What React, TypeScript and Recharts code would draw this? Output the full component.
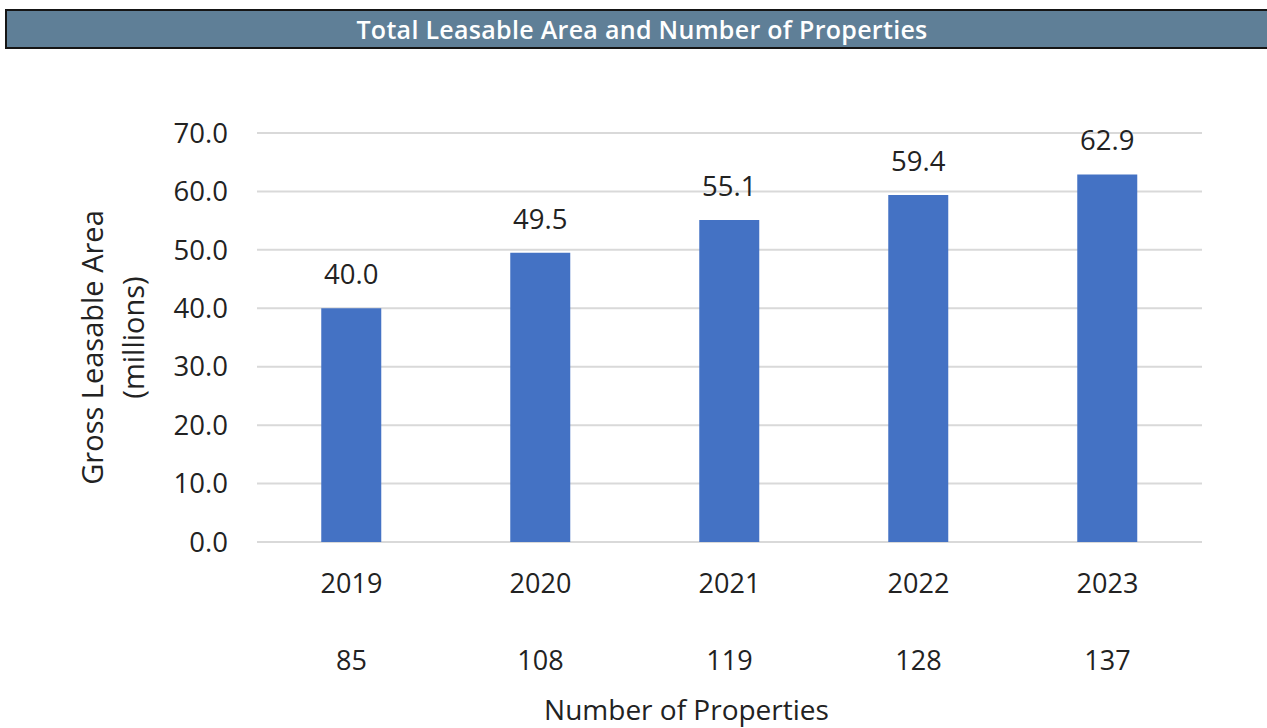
import React from "react";
import {
  BarChart,
  Bar,
  XAxis,
  YAxis,
  CartesianGrid,
  LabelList,
  Label,
} from "recharts";

const years = ["2019", "2020", "2021", "2022", "2023"];
const areaMillions = [40.0, 49.5, 55.1, 59.4, 62.9];
const propertyCounts = [85, 108, 119, 128, 137];
const yTicks = [0, 10, 20, 30, 40, 50, 60, 70];

const data = years.map((year, i) => ({
  year,
  area: areaMillions[i],
  props: propertyCounts[i],
}));

const FONT = "'Open Sans', 'Noto Sans', sans-serif";
const TEXT = "#222";

const YTitle = (props: any) => {
  const { viewBox } = props;
  const cx = viewBox.x + 112;
  const cy = viewBox.y + viewBox.height / 2;
  return (
    <g transform={`rotate(-90, ${cx}, ${cy})`}>
      <text
        x={cx - 10}
        y={cy - 9}
        textAnchor="middle"
        fontSize={29}
        fontFamily={FONT}
        fill={TEXT}
      >
        Gross Leasable Area
      </text>
      <text
        x={cx}
        y={cy + 32}
        textAnchor="middle"
        fontSize={29}
        fontFamily={FONT}
        fill={TEXT}
      >
        (millions)
      </text>
    </g>
  );
};

export default function App() {
  return (
    <div
      style={{
        position: "absolute",
        left: 0,
        top: 0,
        width: 1267,
        height: 728,
        background: "#fff",
        overflow: "hidden",
      }}
    >
      <div
        style={{
          position: "absolute",
          left: 5,
          top: 9,
          width: 1270,
          height: 36,
          background: "#5f7f97",
          border: "2px solid #151515",
          color: "#fff",
          fontFamily: FONT,
          fontWeight: 600,
          fontSize: 25,
          letterSpacing: 0.3,
          lineHeight: "36px",
          textAlign: "center",
          boxSizing: "content-box",
        }}
      >
        Total Leasable Area and Number of Properties
      </div>
      <div style={{ position: "absolute", left: 0, top: 0 }}>
        <BarChart
          width={1267}
          height={728}
          data={data}
          margin={{ top: 133, right: 65, bottom: 0, left: 0 }}
          barCategoryGap="34%"
        >
          <CartesianGrid vertical={false} stroke="#d9d9d9" strokeWidth={2} />
          <YAxis
            width={257}
            domain={[0, 70]}
            ticks={yTicks}
            tickFormatter={(v: number) => v.toFixed(1)}
            axisLine={false}
            tickLine={false}
            tickSize={0}
            tickMargin={29}
            tick={{ fill: TEXT, fontSize: 27.5, fontFamily: FONT }}
          >
            <Label content={<YTitle />} />
          </YAxis>
          <XAxis
            dataKey="year"
            height={60}
            axisLine={false}
            tickLine={false}
            tickSize={0}
            tickMargin={32}
            tick={{ fill: TEXT, fontSize: 27, fontFamily: FONT }}
          />
          <XAxis
            xAxisId="props"
            dataKey="props"
            height={126}
            axisLine={false}
            tickLine={false}
            tickSize={0}
            tickMargin={49}
            tick={{ fill: TEXT, fontSize: 27, fontFamily: FONT }}
          >
            <Label
              value="Number of Properties"
              position="insideBottom"
              offset={8}
              dx={-43}
              fill={TEXT}
              fontSize={28}
              fontFamily={FONT}
            />
          </XAxis>
          <Bar dataKey="area" fill="#4472c4" isAnimationActive={false}>
            <LabelList
              dataKey="area"
              position="top"
              offset={24}
              formatter={(v: any) => Number(v).toFixed(1)}
              fill={TEXT}
              fontSize={27.5}
              fontFamily={FONT}
            />
          </Bar>
        </BarChart>
      </div>
    </div>
  );
}
